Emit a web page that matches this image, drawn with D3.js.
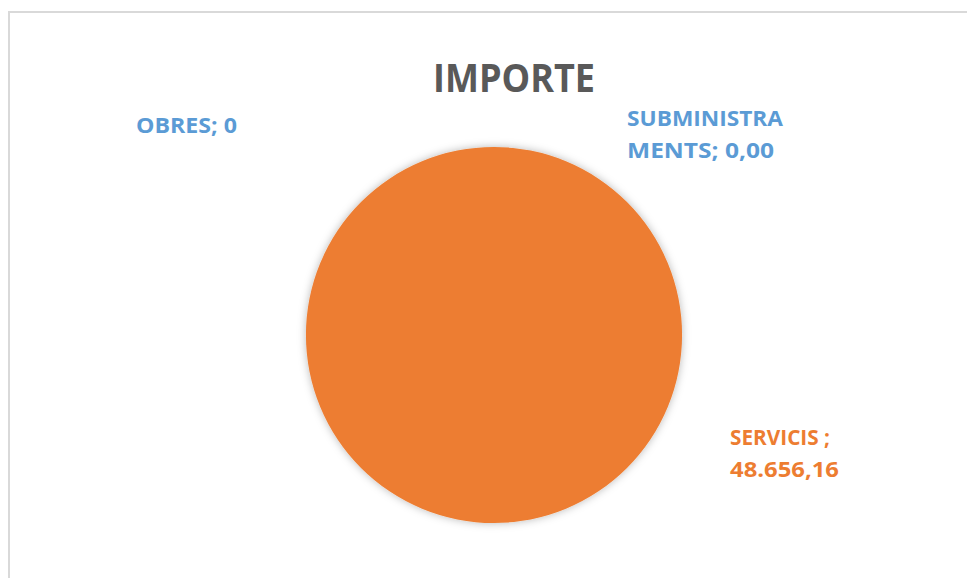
<!DOCTYPE html>
<html>
<head>
<meta charset="utf-8">
<script src="https://cdn.jsdelivr.net/npm/d3@7"></script>
<style>
  html, body { margin: 0; padding: 0; background: #fff; }
  svg { display: block; }
  text { font-family: "Open Sans", "Noto Sans", sans-serif; font-weight: bold; }
</style>
</head>
<body>
<svg id="chart" width="967" height="578"></svg>
<script>
const categories = ["OBRES", "SUBMINISTRAMENTS", "SERVICIS"];
const values = [0, 0, 48656.16];
const labelTexts = [["OBRES; 0"], ["SUBMINISTRA", "MENTS; 0,00"], ["SERVICIS ;", "48.656,16"]];
const title = "IMPORTE";

const colors = ["#5B9BD5", "#5B9BD5", "#ED7D31"];
const labelLayout = [
  { x: 136, y: 133, widths: [101] },
  { x: 627, y: 126, widths: [156, 147] },
  { x: 730, y: 445, widths: [100, 109] }
];

const svg = d3.select("#chart");

svg.append("rect")
  .attr("x", 9).attr("y", 12)
  .attr("width", 1000).attr("height", 1000)
  .attr("fill", "#fff")
  .attr("stroke", "#D9D9D9").attr("stroke-width", 2);

const defs = svg.append("defs");
const f = defs.append("filter").attr("id", "sh")
  .attr("x", "-20%").attr("y", "-20%").attr("width", "140%").attr("height", "140%");
f.append("feDropShadow").attr("dx", 0).attr("dy", 0)
  .attr("stdDeviation", 4).attr("flood-color", "#000").attr("flood-opacity", 0.28);

svg.append("text")
  .attr("x", 433).attr("y", 92)
  .attr("font-size", 40)
  .attr("fill", "#595959")
  .attr("textLength", 162).attr("lengthAdjust", "spacingAndGlyphs")
  .text(title);

const cx = 494, cy = 335, r = 188;
const pie = d3.pie().sort(null).value(d => d.v);
const data = categories.map((c, i) => ({ c, v: values[i], i }));
const arcs = pie(data);
const arc = d3.arc().innerRadius(0).outerRadius(r);

const g = svg.append("g").attr("transform", `translate(${cx},${cy})`).attr("filter", "url(#sh)");
g.selectAll("path").data(arcs.filter(a => a.data.v > 0)).join("path")
  .attr("d", arc)
  .attr("fill", d => colors[d.data.i]);

labelTexts.forEach((lines, i) => {
  const L = labelLayout[i];
  lines.forEach((t, j) => {
    svg.append("text")
      .attr("x", L.x).attr("y", L.y + j * 32)
      .attr("font-size", 22)
      .attr("fill", colors[i])
      .attr("textLength", L.widths[j]).attr("lengthAdjust", "spacingAndGlyphs")
      .text(t);
  });
});
</script>
</body>
</html>
